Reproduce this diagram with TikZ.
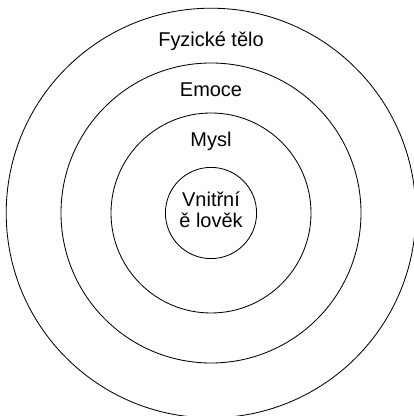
\documentclass[tikz,border=0pt]{standalone}
\usepackage{fontspec}
\setmainfont{Liberation Sans}
\tikzset{
	ring/.style={draw, line width=0.6pt},
	label/.style={font=\fontsize{14.2}{15.5}\selectfont, inner sep=0pt, align=center}
}
\begin{document}
\begin{tikzpicture}
		\useasboundingbox (-5.275,-5.075) rectangle (5.05,5.325);

		\draw[ring] (0,0) circle (5.12);
		\draw[ring] (0,0) circle (3.75);
		\draw[ring] (0,0) circle (2.5);
		\draw[ring] (0,0) circle (1.14);

		\node[label, anchor=base] (body) at (0,4.15) {Fyzické tělo};
		\node[label, anchor=base] (emotion) at (0,2.9) {Emoce};
		\node[label, anchor=base] (mind) at (0,1.65) {Mysl};
		\node[label] (inner) at (0,0.08) {Vnitřní\\ě lověk};

	\end{tikzpicture}
\end{document}
